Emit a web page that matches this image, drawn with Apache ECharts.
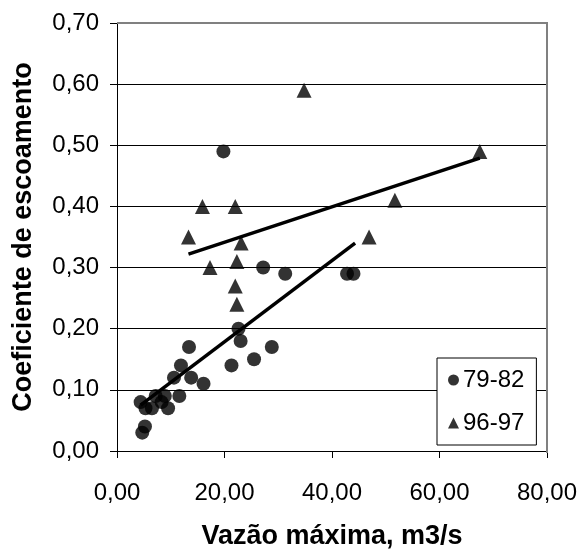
<!DOCTYPE html>
<html>
<head>
<meta charset="utf-8">
<script src="https://cdn.jsdelivr.net/npm/echarts@6/dist/echarts.min.js"></script>
<style>
html, body { margin: 0; padding: 0; background: #fff; }
#chart { width: 580px; height: 555px; }
</style>
</head>
<body>
<div id="chart"></div>
<script>
// dados 79-82
var x7982 = [4.4, 4.7, 5.2, 5.3, 6.5, 7.2, 8.3, 8.9, 9.5, 10.6, 11.6, 11.9, 13.4, 13.8, 16.1, 19.8, 21.3, 22.6, 23.0, 25.5, 27.2, 28.8, 31.3, 42.8, 44.0];
var y7982 = [0.08, 0.03, 0.04, 0.07, 0.07, 0.09, 0.08, 0.09, 0.07, 0.12, 0.09, 0.14, 0.17, 0.12, 0.11, 0.49, 0.14, 0.20, 0.18, 0.15, 0.30, 0.17, 0.29, 0.29, 0.29];
// dados 96-97
var x9697 = [13.3, 15.9, 17.3, 22.0, 22.0, 22.3, 22.3, 23.1, 34.8, 46.9, 51.7, 67.5];
var y9697 = [0.35, 0.40, 0.30, 0.40, 0.27, 0.31, 0.24, 0.34, 0.59, 0.35, 0.41, 0.49];
// linhas de tendencia (pontas)
var trendX7982 = [4.4, 44.3];
var trendY7982 = [0.075, 0.34];
var trendX9697 = [13.3, 67.5];
var trendY9697 = [0.322, 0.479];

var seriesNames = ['79-82', '96-97'];
var font = 'Liberation Sans';

function pairs(xs, ys) {
    var out = [];
    for (var i = 0; i < xs.length; i++) out.push([xs[i], ys[i]]);
    return out;
}
function virgula(v, casas) {//numero com virgula decimal
    return v.toFixed(casas).replace('.', ',');
}

var myChart = echarts.init(document.getElementById('chart'), null, { renderer: 'canvas' });

var option = {
    animation: false,
    backgroundColor: '#fff',
    textStyle: { fontFamily: font },
    grid: { left: 117, right: 33, top: 23, bottom: 102 },
    xAxis: {
        type: 'value', min: 0, max: 80, interval: 20,
        name: 'Vazão máxima, m3/s', nameLocation: 'middle', nameGap: 72,
        nameTextStyle: { fontFamily: font, fontSize: 27, fontWeight: 'bold', color: '#000' },
        axisLine: { onZero: false, lineStyle: { color: '#000', width: 1 } },
        axisTick: { show: true, length: 7, lineStyle: { color: '#000' } },
        axisLabel: { margin: 30, fontSize: 24, color: '#000', formatter: function (v) { return virgula(v, 2); } },
        splitLine: { show: false }
    },
    yAxis: {
        type: 'value', min: 0, max: 0.7, interval: 0.1,
        name: 'Coeficiente de escoamento', nameLocation: 'middle', nameGap: 80, nameRotate: 90,
        nameTextStyle: { fontFamily: font, fontSize: 27, fontWeight: 'bold', color: '#000' },
        axisLine: { show: true, lineStyle: { color: '#000', width: 1 } },
        axisTick: { show: true, length: 7, lineStyle: { color: '#000' } },
        axisLabel: { margin: 18, fontSize: 24, color: '#000', formatter: function (v) { return virgula(v, 2); } },
        splitLine: { show: true, lineStyle: { color: '#000', width: 1 } }
    },
    legend: {
        data: [
            { name: seriesNames[0], icon: 'circle' },
            { name: seriesNames[1], icon: 'triangle' }
        ],
        orient: 'vertical', left: 437, top: 358,
        itemWidth: 11, itemHeight: 11, itemGap: 19,
        padding: [10, 12, 10, 11],
        borderColor: '#000', borderWidth: 1, backgroundColor: '#fff',
        textStyle: { fontFamily: font, fontSize: 24, color: '#000', padding: [0, 0, 0, -1] }
    },
    graphic: [{
        // moldura cinza do plot (topo e direita)
        type: 'polyline', silent: true, z: 1,
        shape: { points: [[117, 23], [547, 23], [547, 453]] },
        style: { stroke: '#808080', lineWidth: 2, fill: null }
    }],
    series: [
        {
            name: seriesNames[0], type: 'scatter', symbol: 'circle', symbolSize: 14,
            itemStyle: { color: '#000' }, z: 5,
            data: pairs(x7982, y7982)
        },
        {
            name: seriesNames[1], type: 'scatter', symbol: 'triangle', symbolSize: 15,
            itemStyle: { color: '#000' }, z: 5,
            data: pairs(x9697, y9697)
        },
        {
            name: 'tend1', type: 'line', symbol: 'none', silent: true, z: 4,
            lineStyle: { color: '#000', width: 3.5 },
            data: pairs(trendX7982, trendY7982)
        },
        {
            name: 'tend2', type: 'line', symbol: 'none', silent: true, z: 4,
            lineStyle: { color: '#000', width: 3.5 },
            data: pairs(trendX9697, trendY9697)
        }
    ]
};

myChart.setOption(option);
</script>
</body>
</html>
